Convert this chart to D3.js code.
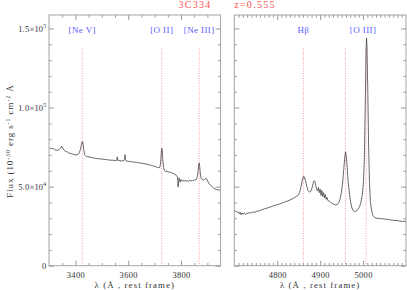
<!DOCTYPE html>
<html>
<head>
<meta charset="utf-8">
<script src="https://cdn.jsdelivr.net/npm/d3@7"></script>
<style>
  body { margin: 0; background: #fff; }
  svg { display: block; }
  text { font-family: "Liberation Serif", "Times New Roman", serif; }
</style>
</head>
<body>
<svg id="chart" width="407" height="290"></svg>
<script>
// flux values are in units of 1e4 (10^-30 erg s^-1 cm^-2 A^-1)
const FLUX_UNIT = 1e4;

const leftWave = [3303,3310,3316,3322,3328,3334,3339,3344,3348,3352,3357,3362,3368,3374,3380,3387,3394,3400,3406,3411,3415,3419,3422,3425,3427,3429,3432,3435,3440,3447,3455,3462,3470,3478,3486,3494,3502,3510,3518,3526,3534,3542,3550,3556,3559,3561,3568,3576,3583,3586,3588,3590,3593,3600,3608,3616,3624,3632,3640,3648,3656,3664,3672,3680,3688,3696,3704,3710,3716,3720,3723,3725,3727,3729,3731,3734,3738,3742,3747,3752,3758,3764,3770,3776,3782,3786,3788,3789,3791,3793,3795,3797,3800,3803,3807,3811,3815,3819,3823,3828,3833,3838,3843,3848,3853,3858,3862,3865,3867,3869,3871,3873,3876,3880,3885,3890,3894,3897,3901,3906,3912,3918,3924,3930,3936,3942,3948,3952];
const leftFlux = [7.44,7.40,7.42,7.33,7.30,7.31,7.36,7.45,7.56,7.42,7.30,7.24,7.20,7.14,7.10,7.07,7.03,7.01,7.00,7.06,7.15,7.35,7.60,7.82,7.86,7.70,7.30,7.00,6.92,6.89,6.86,6.84,6.80,6.79,6.76,6.76,6.73,6.72,6.71,6.68,6.67,6.67,6.65,6.64,6.88,6.66,6.64,6.62,6.64,6.72,7.02,6.70,6.62,6.60,6.58,6.56,6.55,6.53,6.51,6.49,6.46,6.44,6.41,6.38,6.34,6.30,6.26,6.22,6.19,6.22,6.55,7.10,7.43,7.25,6.70,6.20,6.00,5.96,5.98,5.93,5.92,5.88,5.84,5.78,5.72,5.62,5.30,4.98,5.30,5.55,5.38,5.28,5.45,5.36,5.42,5.33,5.40,5.34,5.38,5.32,5.40,5.36,5.38,5.40,5.42,5.46,5.62,6.00,6.35,6.50,6.25,5.85,5.52,5.44,5.42,5.46,5.52,5.50,5.35,5.20,5.08,4.98,4.90,4.85,4.80,4.79,4.77,4.76];

const rightWave = [4700,4704,4707,4710,4712,4714,4716,4718,4720,4723,4726,4729,4732,4736,4740,4744,4748,4752,4756,4760,4765,4770,4775,4780,4785,4790,4795,4800,4805,4810,4815,4820,4825,4830,4835,4840,4845,4849,4852,4855,4858,4861,4863,4866,4869,4872,4875,4878,4881,4884,4886,4888,4890,4892,4894,4896,4898,4900,4902,4904,4906,4908,4910,4912,4914,4916,4918,4921,4924,4928,4932,4936,4940,4943,4946,4949,4952,4955,4957,4959,4961,4963,4965,4968,4971,4974,4977,4980,4983,4986,4989,4992,4995,4998,5001,5003,5005,5007,5008,5009,5011,5013,5015,5017,5020,5023,5027,5032,5038,5044,5050,5056,5062,5068,5074,5080,5086,5092,5096,5100];
const rightFlux = [3.42,3.45,3.36,3.40,3.28,3.38,3.22,3.34,3.26,3.32,3.24,3.33,3.30,3.36,3.34,3.40,3.38,3.45,3.44,3.50,3.54,3.60,3.63,3.68,3.72,3.77,3.82,3.86,3.90,3.95,4.00,4.05,4.10,4.16,4.22,4.30,4.38,4.46,4.62,4.95,5.35,5.65,5.62,5.35,5.00,4.75,4.65,4.70,4.90,5.25,5.38,5.30,5.05,4.80,4.72,4.95,4.62,4.85,4.45,4.75,4.38,4.62,4.28,4.50,4.20,4.32,4.12,4.08,4.00,3.94,3.88,3.85,3.88,3.98,4.18,4.55,5.15,6.10,6.75,7.20,6.90,6.20,5.40,4.60,4.00,3.65,3.48,3.42,3.44,3.50,3.60,3.75,4.00,4.45,5.30,6.80,10.0,13.6,14.4,13.9,11.0,7.5,5.2,4.05,3.45,3.18,3.05,3.00,2.98,2.97,2.95,2.93,2.91,2.88,2.86,2.85,2.82,2.80,2.82,2.78];

const leftLineWaves = [3426, 3727, 3869];
const leftLabelWaves = [3426, 3727, 3869];
const leftLabelNames = ["[Ne V]", "[O II]", "[Ne III]"];
const rightLineWaves = [4861, 4959, 5007];
const rightLabelWaves = [4861, 5000];
const rightLabelNames = ["Hβ", "[O III]"];

const leftMajor = [3400, 3600, 3800];
const leftMinor = d3.range(3300, 3951, 50);
const rightMajor = [4800, 4900, 5000];
const rightMinor = d3.range(4700, 5101, 10);
const yMajor = [0, 50000, 100000, 150000];
const yMinor = d3.range(0, 158001, 10000);

const title = "3C334";
const redshift = "z=0.555";

const svg = d3.select("#chart");
const plotTop = 15, plotBottom = 265.7;
const y = d3.scaleLinear().domain([0, 158500]).range([plotBottom, plotTop]);

const axisColor = "#9a9a9a";
const textColor = "#333";

const panels = [
  { id: "left", x0: 49, x1: 220.6, domain: [3300, 3950], wave: leftWave, flux: leftFlux,
    major: leftMajor, minor: leftMinor, lines: leftLineWaves, labelAt: leftLabelWaves,
    names: leftLabelNames, yLabels: true },
  { id: "right", x0: 234.3, x1: 406, domain: [4700, 5100], wave: rightWave, flux: rightFlux,
    major: rightMajor, minor: rightMinor, lines: rightLineWaves, labelAt: rightLabelWaves,
    names: rightLabelNames, yLabels: false }
];

function expLabel(sel, v) {
  if (v === 0) { sel.append("tspan").text("0"); return; }
  let e = Math.floor(Math.log10(v));
  let m = (v / Math.pow(10, e)).toFixed(1);
  sel.append("tspan").text(m + "×10");
  sel.append("tspan").attr("dy", -3.5).attr("font-size", 6).text(e);
}

panels.forEach(p => {
  let x = d3.scaleLinear().domain(p.domain).range([p.x0, p.x1]);
  let g = svg.append("g").attr("id", p.id);

  g.append("clipPath").attr("id", "clip-" + p.id)
    .append("rect")
    .attr("x", p.x0).attr("y", plotTop)
    .attr("width", p.x1 - p.x0).attr("height", plotBottom - plotTop);

  // dotted line markers
  g.selectAll(".mark")
    .data(p.lines)
    .join("line")
    .attr("x1", d => x(d)).attr("x2", d => x(d))
    .attr("y1", 48).attr("y2", plotBottom)
    .attr("stroke", "#ff8c8c")
    .attr("stroke-width", 0.9)
    .attr("stroke-dasharray", "1,1.5");

  // spectrum
  let line = d3.line()
    .x((d, i) => x(p.wave[i]))
    .y(d => y(d * FLUX_UNIT));
  g.append("path")
    .datum(p.flux)
    .attr("clip-path", `url(#clip-${p.id})`)
    .attr("d", line)
    .attr("fill", "none")
    .attr("stroke", "#444")
    .attr("stroke-width", 0.8);

  // line names
  g.selectAll(".lab")
    .data(p.names)
    .join("text")
    .attr("x", (d, i) => x(p.labelAt[i]))
    .attr("y", 33)
    .attr("text-anchor", "middle")
    .attr("font-size", 9)
    .attr("letter-spacing", 0.4)
    .attr("fill", "#5a5aff")
    .text(d => d);

  // axes: major + minor ticks on all four sides, pointing inward
  let minorX = p.minor.filter(v => !p.major.includes(v) && v > p.domain[0] && v < p.domain[1]);
  let minorY = yMinor.filter(v => !yMajor.includes(v));

  let axes = [
    [d3.axisBottom(x), `translate(0,${plotBottom})`, p.major, minorX, true],
    [d3.axisTop(x), `translate(0,${plotTop})`, p.major, minorX, false],
    [d3.axisLeft(y), `translate(${p.x0},0)`, yMajor, minorY, p.yLabels],
    [d3.axisRight(y), `translate(${p.x1},0)`, yMajor, minorY, false]
  ];
  axes.forEach(([ax, tr, maj, mn, labels], k) => {
    let a1 = g.append("g").attr("transform", tr)
      .call(ax.tickValues(maj).tickSizeInner(-5).tickSizeOuter(0).tickFormat(labels ? (d => d) : ""));
    let a2 = g.append("g").attr("transform", tr)
      .call(ax.tickValues(mn).tickSizeInner(-2.7).tickSizeOuter(0).tickFormat(""));
    [a1, a2].forEach(a => {
      a.select(".domain").remove();
      a.selectAll("line").attr("stroke", axisColor);
      a.attr("font-family", null).attr("font-size", null);
    });
    if (labels && k === 0) {
      a1.selectAll("text")
        .attr("y", 12.3).attr("dy", 0)
        .attr("font-size", 8.5).attr("letter-spacing", 0.3)
        .attr("fill", textColor);
    }
    if (labels && k === 2) {
      a1.selectAll("text")
        .text("")
        .attr("x", -2.5).attr("dy", "0.32em")
        .attr("font-size", 8.5).attr("letter-spacing", 0.2)
        .attr("fill", textColor)
        .each(function(d) { expLabel(d3.select(this), d); });
    }
  });

  // frame
  g.append("rect")
    .attr("x", p.x0).attr("y", plotTop)
    .attr("width", p.x1 - p.x0).attr("height", plotBottom - plotTop)
    .attr("fill", "none").attr("stroke", axisColor).attr("stroke-width", 0.9);

  // x title
  g.append("text")
    .attr("x", (p.x0 + p.x1) / 2)
    .attr("y", 287.6)
    .attr("text-anchor", "middle")
    .attr("font-size", 8.8)
    .attr("letter-spacing", 1.1)
    .attr("fill", textColor)
    .text("λ (Å , rest frame)");
});

// y title
let yt = svg.append("text")
  .attr("transform", "translate(13,141) rotate(-90)")
  .attr("text-anchor", "middle")
  .attr("font-size", 9)
  .attr("letter-spacing", 0.9)
  .attr("fill", textColor);
yt.append("tspan").text("Flux (10");
yt.append("tspan").attr("dy", -3.5).attr("font-size", 6).text("-30");
yt.append("tspan").attr("dy", 3.5).text(" erg s");
yt.append("tspan").attr("dy", -3.5).attr("font-size", 6).text("-1");
yt.append("tspan").attr("dy", 3.5).text(" cm");
yt.append("tspan").attr("dy", -3.5).attr("font-size", 6).text("-2");
yt.append("tspan").attr("dy", 3.5).text(" Å");

// title
svg.append("text")
  .attr("x", 195).attr("y", 8)
  .attr("text-anchor", "middle")
  .attr("font-size", 10)
  .attr("letter-spacing", 1.3)
  .attr("fill", "#ff5050")
  .text(title);
svg.append("text")
  .attr("x", 255).attr("y", 8)
  .attr("text-anchor", "middle")
  .attr("font-size", 10)
  .attr("letter-spacing", 1.3)
  .attr("fill", "#ff5050")
  .text(redshift);
</script>
</body>
</html>
